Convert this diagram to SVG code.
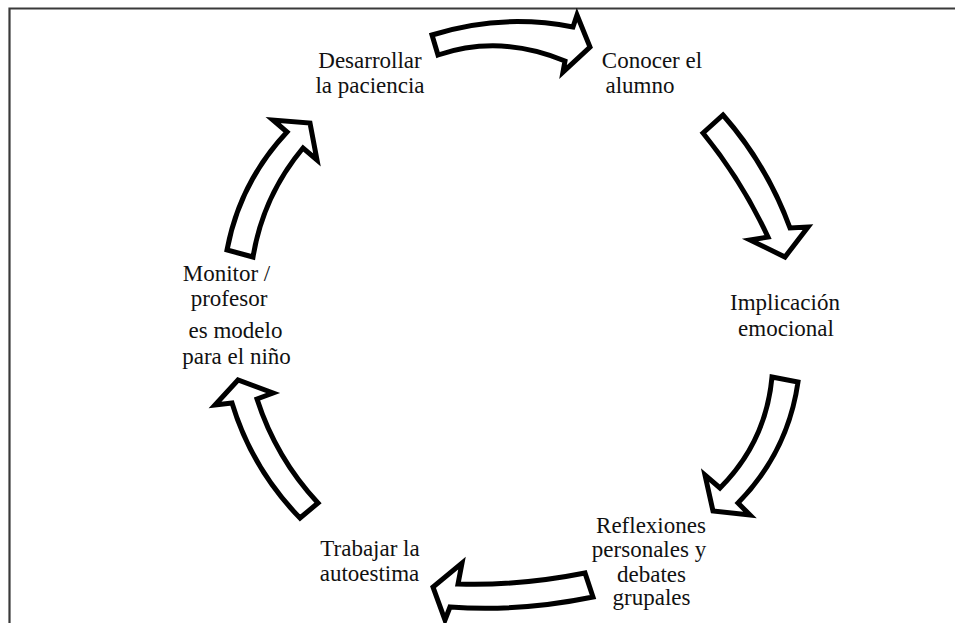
<svg xmlns="http://www.w3.org/2000/svg" width="955" height="623" viewBox="0 0 955 623">
<style>
.frame{fill:none;stroke:#3a3a3a;stroke-width:2.2}
.arrow{fill:#fff;stroke:#000;stroke-width:5;stroke-linejoin:miter;stroke-miterlimit:10}
text{font-family:"Liberation Serif","Times New Roman",serif;font-size:23px;fill:#111;text-anchor:middle}
</style>
<rect width="955" height="623" fill="#fff"/>
<path class="frame" d="M9.5,623 L9.5,8.5 L955,8.5"/>
<g id="connectors">
<path class="arrow" d="M432,35 Q501,13 573,27 L577,15 L590,47 L563,72 L565,61 Q500,34 438,55 Z"/>
<path class="arrow" d="M703,133 L723,115 Q767,165 790,228 L808,227 L785,257 L750,240 L768,237 Q742,181 703,133 Z"/>
<path class="arrow" d="M772,377 L798,382 Q788,452 738,503 L750,515 L713,511 L705,475 L720,488 Q766,442 772,377 Z"/>
<path class="arrow" d="M585,573 Q520,586 458,584 L462,563 L433,587 L445,620 L450,607 Q520,612 593,597 Z"/>
<path class="arrow" d="M300,518 L318,503 Q276,458 257,399 L273,393 L238,380 L215,405 L232,403 Q252,469 300,518 Z"/>
<path class="arrow" d="M227,250 Q240,182 287,132 L273,120 L310,123 L317,160 L303,148 Q263,196 253,257 Z"/>
</g>
<g id="n1"><text x="370" y="68">Desarrollar</text><text x="370" y="93">la paciencia</text></g>
<g id="n2"><text x="652" y="68">Conocer el</text><text x="640" y="93">alumno</text></g>
<g id="n3"><text x="785" y="310">Implicación</text><text x="786" y="336">emocional</text></g>
<g id="n4"><text x="651" y="533">Reflexiones</text><text x="649" y="557">personales y</text><text x="651.5" y="582">debates</text><text x="651.5" y="605">grupales</text></g>
<g id="n5"><text x="370" y="556">Trabajar la</text><text x="369.5" y="581">autoestima</text></g>
<g id="n6"><text x="226.5" y="281">Monitor /</text><text x="229" y="306">profesor</text><text x="235.5" y="338">es modelo</text><text x="236.5" y="364">para el niño</text></g>
</svg>
